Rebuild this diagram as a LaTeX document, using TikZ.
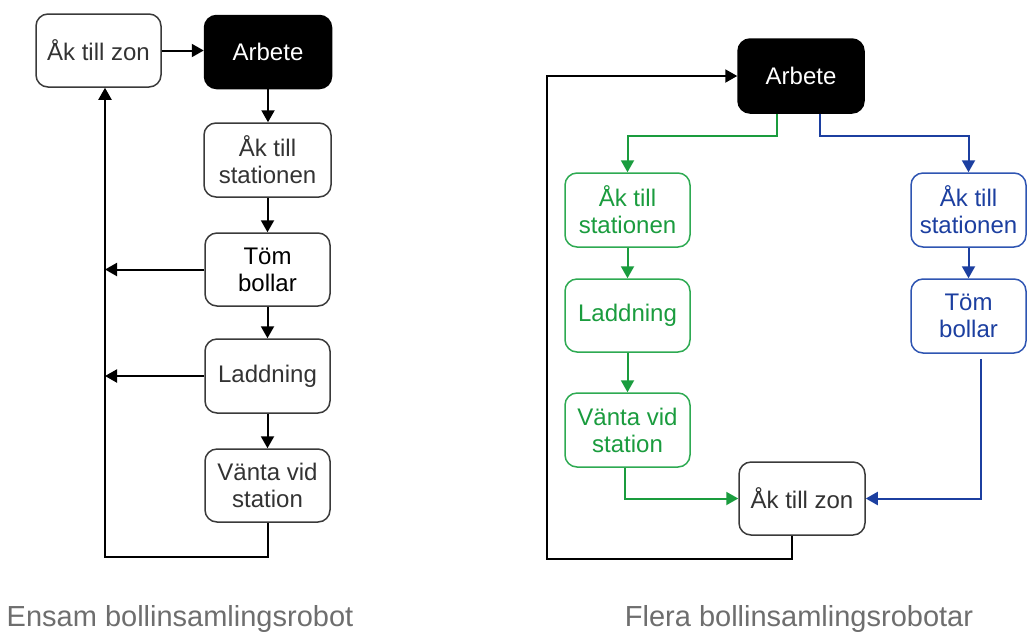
\documentclass[tikz,border=0pt]{standalone}
\usepackage{fontspec}
\setmainfont{Liberation Sans}
\usetikzlibrary{arrows.meta,calc}
\definecolor{boxline}{HTML}{3A3A3A}
\definecolor{boxtext}{HTML}{333333}
\definecolor{grn}{HTML}{1A9C3E}
\definecolor{grnline}{HTML}{2EAA52}
\definecolor{blu}{HTML}{1C3FA0}
\definecolor{bluline}{HTML}{2F55B2}
\definecolor{captext}{HTML}{6E6E6E}
\tikzset{
  state/.style={draw=boxline, line width=1.5pt, rounded corners=12pt, fill=white,
    align=center, text=boxtext, inner sep=0pt,
    font=\fontsize{24}{27}\selectfont},
  workbox/.style={state, fill=black, draw=black, text=white},
  gstate/.style={state, draw=grnline, text=grn},
  bstate/.style={state, draw=bluline, text=blu},
  flow/.style={line width=2pt, draw=black, -{Triangle[length=12pt,width=13pt]}},
  gflow/.style={flow, draw=grn},
  bflow/.style={flow, draw=blu},
  caption/.style={text=captext, font=\fontsize{29}{32}\selectfont, anchor=base}
}
\begin{document}
\begin{tikzpicture}[x=1pt,y=-1pt]
\useasboundingbox (0,0) rectangle (1027,633);

% ---- single robot ----
\node[state, minimum width=125pt, minimum height=73pt] (zonL) at (98.5,50.5) {Åk till zon};
\node[workbox, minimum width=127pt, minimum height=73pt] (arbL) at (268,52) {Arbete};
\node[state, minimum width=127pt, minimum height=74pt] (akL) at (267.5,160) {Åk till\\stationen};
\node[state, minimum width=125pt, minimum height=73pt, text=black] (tomL) at (267.5,269.5) {Töm\\bollar};
\node[state, minimum width=125pt, minimum height=74pt] (ladL) at (267.5,376) {Laddning};
\node[state, minimum width=125pt, minimum height=73pt] (vanL) at (267.5,485.5) {Vänta vid\\station};

\coordinate (cL) at (105,557);

\draw[flow] (zonL.east) -- (zonL.east -| arbL.west);
\draw[flow] (arbL.south) -- (arbL.south |- akL.north);
\draw[flow] (akL.south) -- (tomL.north);
\draw[flow] (tomL.south) -- (ladL.north);
\draw[flow] (ladL.south) -- (vanL.north);
\draw[flow] (vanL.south) |- (cL) -- (cL |- zonL.south);
\draw[flow] (tomL.west) -- (tomL.west -| cL);
\draw[flow] (ladL.west) -- (ladL.west -| cL);

\node[caption] (capL) at (180,626) {Ensam bollinsamlingsrobot};

% ---- several robots ----
\node[workbox, minimum width=126pt, minimum height=74pt] (arbR) at (801,76) {Arbete};
\node[gstate, minimum width=125pt, minimum height=74pt] (akG) at (627.5,210) {Åk till\\stationen};
\node[gstate, minimum width=125pt, minimum height=73pt] (ladG) at (627.5,315.5) {Laddning};
\node[gstate, minimum width=125pt, minimum height=74pt] (vanG) at (627.5,430) {Vänta vid\\station};
\node[state, minimum width=126pt, minimum height=73pt] (zonR) at (802,498.5) {Åk till zon};
\node[bstate, minimum width=115pt, minimum height=74pt] (akB) at (968.5,210) {Åk till\\stationen};
\node[bstate, minimum width=115pt, minimum height=74pt] (tomB) at (968.5,316) {Töm\\bollar};

\coordinate (split) at (0,136);
\coordinate (cR) at (547,559);

\draw[gflow] ([xshift=-24pt]arbR.south) -- ([xshift=-24pt]arbR.south |- split) -| (akG.north);
\draw[bflow] ([xshift=19pt]arbR.south) -- ([xshift=19pt]arbR.south |- split) -| (akB.north);
\draw[gflow] (akG.south) -- (ladG.north);
\draw[gflow] (ladG.south) -- (vanG.north);
\draw[gflow] ([xshift=-3pt]vanG.south) |- (zonR.west);
\draw[bflow] (akB.south) -- (tomB.north);
\draw[bflow] ([xshift=12pt,yshift=-5pt]tomB.south) |- (zonR.east);
\draw[flow] ([xshift=-10pt]zonR.south) |- (cR) |- (arbR.west);

\node[caption] (capR) at (799,626) {Flera bollinsamlingsrobotar};
\end{tikzpicture}
\end{document}
